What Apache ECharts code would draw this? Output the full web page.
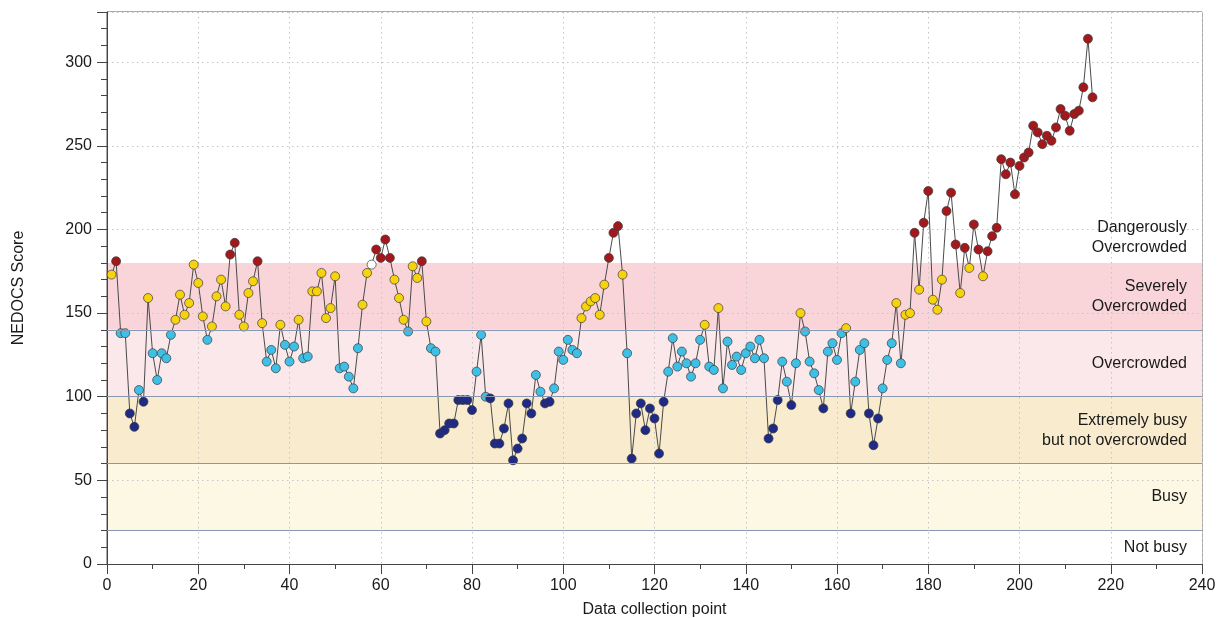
<!DOCTYPE html>
<html>
<head>
<meta charset="utf-8">
<title>NEDOCS Score</title>
<script src="https://cdn.jsdelivr.net/npm/echarts@6/dist/echarts.min.js"></script>
<style>
html, body { margin: 0; padding: 0; background: #fff; }
#main { width: 1220px; height: 618px; }
</style>
</head>
<body>
<div id="main"></div>
<script>
// NEDOCS score at each data collection point (points 1..216)
var scores = [
  173, 181, 138, 138, 90, 82, 104, 97, 159, 126,
  110, 126, 123, 137, 146, 161, 149, 156, 179, 168,
  148, 134, 142, 160, 170, 154, 185, 192, 149, 142,
  162, 169, 181, 144, 121, 128, 117, 143, 131, 121,
  130, 146, 123, 124, 163, 163, 174, 147, 153, 172,
  117, 118, 112, 105, 129, 155, 174, 179, 188, 183,
  194, 183, 170, 159, 146, 139, 178, 171, 181, 145,
  129, 127, 78, 80, 84, 84, 98, 98, 98, 92,
  115, 137, 100, 99, 72, 72, 81, 96, 62, 69,
  75, 96, 90, 113, 103, 96, 97, 105, 127, 122,
  134, 128, 126, 147, 154, 157, 159, 149, 167, 183,
  198, 202, 173, 126, 63, 90, 96, 80, 93, 87,
  66, 97, 115, 135, 118, 127, 120, 112, 120, 134,
  143, 118, 116, 153, 105, 133, 119, 124, 116, 126,
  130, 123, 134, 123, 75, 81, 98, 121, 109, 95,
  120, 150, 139, 121, 114, 104, 93, 127, 132, 122,
  138, 141, 90, 109, 128, 132, 90, 71, 87, 105,
  122, 132, 156, 120, 149, 150, 198, 164, 204, 223,
  158, 152, 170, 211, 222, 191, 162, 189, 177, 203,
  188, 172, 187, 196, 201, 242, 233, 240, 221, 238,
  243, 246, 262, 258, 251, 256, 253, 261, 272, 268,
  259, 269, 271, 285, 314, 279
];
var openPoints = [58];   // point drawn as an open marker

// crowding bands
var bandEdges = [0, 20, 60, 100, 140, 180, 330];
var bandNames = ['Not busy', 'Busy', 'Extremely busy\nbut not overcrowded',
                 'Overcrowded', 'Severely\nOvercrowded', 'Dangerously\nOvercrowded'];
var bandLines = [20, 60, 100, 140];

var xTicks = { min: 0, max: 240, step: 20 };
var yTicks = { min: 0, max: 330, step: 50 };

var bandColors = ['#ffffff', '#fdf8e3', '#f9ebcd', '#fbe8eb', '#f9d5d9', '#ffffff'];

function pointColor(v) {
	if (v >= 180) return '#a3181c';
	if (v >= 140) return '#f6d30d';
	if (v >= 100) return '#3ec0e6';
	return '#1f2a86';
}

var myChart = echarts.init(document.getElementById('main'));

var seriesData = scores.map(function (v, i) {
	var n = i + 1;
	return {
		value: [n, v],
		itemStyle: { color: openPoints.indexOf(n) >= 0 ? '#ffffff' : pointColor(v) }
	};
});

var font = 'Liberation Sans, Arial, sans-serif';

// band fills, and where each band name goes on the right-hand label axis
var areas = [];
var labelAt = [];
for (var i = 0; i < bandNames.length; i++) {
	areas.push([{ yAxis: bandEdges[i], itemStyle: { color: bandColors[i] } },
	            { yAxis: bandEdges[i + 1] }]);
	if (i == bandNames.length - 1)
		labelAt.push(bandEdges[i] + 15);   // open top band: name sits just above its lower edge
	else
		labelAt.push((bandEdges[i] + bandEdges[i + 1]) / 2);
}

var axisFont = { color: '#1a1a1a', fontSize: 16, fontFamily: font };

var option = {
	animation: false,
	backgroundColor: '#fff',
	grid: {
		left: 107, right: 18, top: 12, bottom: 54,
		outerBoundsMode: 'none',
		show: true,
		borderColor: '#555',
		borderWidth: 1,
		backgroundColor: 'transparent'
	},
	xAxis: {
		type: 'value',
		min: xTicks.min, max: xTicks.max, interval: xTicks.step,
		z: 2,
		name: 'Data collection point',
		nameLocation: 'middle',
		nameGap: 38,
		nameTextStyle: axisFont,
		axisLine: { lineStyle: { color: '#444', width: 1 } },
		axisTick: { show: true, length: 10, lineStyle: { color: '#444' } },
		minorTick: { show: true, splitNumber: 2, length: 5, lineStyle: { color: '#444' } },
		axisLabel: { color: '#1a1a1a', fontSize: 16, margin: 14, fontFamily: font },
		splitLine: { show: true, lineStyle: { color: '#c4c4c4', type: [1.5, 3.5], width: 1 } }
	},
	yAxis: [{
		type: 'value',
		min: yTicks.min, max: yTicks.max, interval: yTicks.step,
		z: 2,
		name: 'NEDOCS Score',
		nameLocation: 'middle',
		nameGap: 80,
		nameTextStyle: axisFont,
		axisLine: { show: true, lineStyle: { color: '#444', width: 1 } },
		axisTick: { show: true, length: 10, lineStyle: { color: '#444' } },
		minorTick: { show: true, splitNumber: 5, length: 6, lineStyle: { color: '#444' } },
		axisLabel: { color: '#1a1a1a', fontSize: 16, margin: 15, showMaxLabel: false, fontFamily: font },
		splitLine: { show: true, lineStyle: { color: '#c4c4c4', type: [1.5, 3.5], width: 1 } }
	}, {
		// band names along the right edge
		type: 'value',
		position: 'right',
		min: yTicks.min, max: yTicks.max,
		z: 2,
		axisLine: { show: false },
		axisTick: { show: false },
		splitLine: { show: false },
		axisLabel: {
			inside: true,
			margin: 15,
			customValues: labelAt,
			formatter: function (v) {
				var k = labelAt.indexOf(v);
				return k >= 0 ? bandNames[k] : '';
			},
			color: '#1a1a1a',
			fontSize: 16,
			lineHeight: 20,
			padding: [5, 0, 0, 0],
			fontFamily: font
		}
	}],
	series: [
		{
			// background bands
			type: 'line',
			z: 1,
			data: [],
			silent: true,
			markArea: { silent: true, data: areas },
			markLine: {
				silent: true,
				symbol: 'none',
				label: { show: false },
				lineStyle: { color: '#8797b4', type: 'solid', width: 1 },
				data: bandLines.map(function (v) { return { yAxis: v }; })
			}
		},
		{
			type: 'line',
			z: 3,
			data: seriesData,
			symbol: 'circle',
			symbolSize: 9,
			lineStyle: { color: '#4a4a4a', width: 1 },
			itemStyle: { borderColor: '#3a3a3a', borderWidth: 0.7 }
		}
	]
};
myChart.setOption(option);
</script>
</body>
</html>
